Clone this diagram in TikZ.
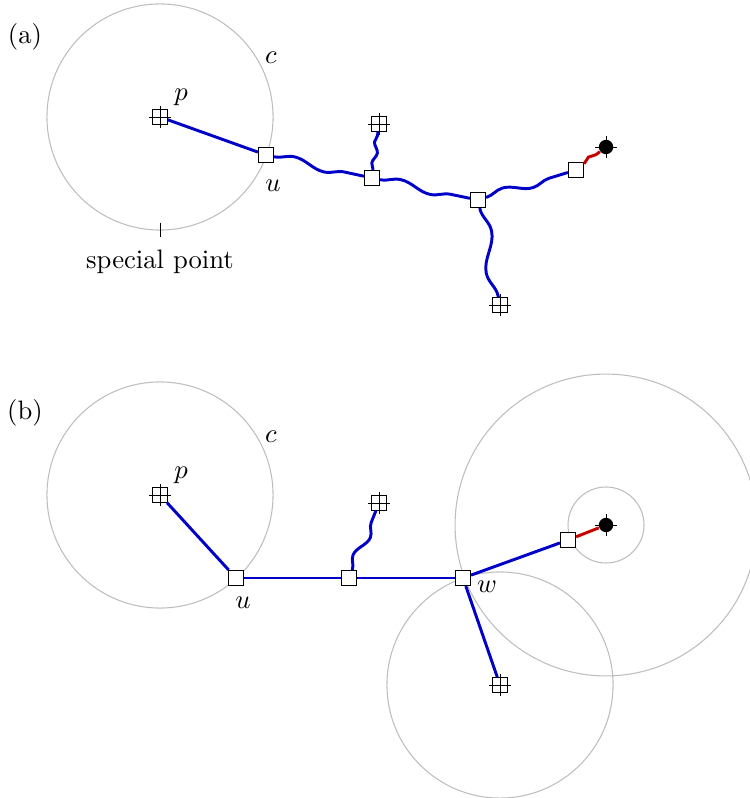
\documentclass[tikz,border=0pt]{standalone}
\usetikzlibrary{decorations.pathmorphing}
\definecolor{edgeblue}{RGB}{0,0,200}
\definecolor{edgered}{RGB}{200,0,0}
\definecolor{circgray}{RGB}{190,190,190}
\newcommand\termnode[2]{%
  \node[termbox] (#1) at (#2) {};
  \draw[crossline] ([xshift=-4.1pt]#1.center) -- ([xshift=4.1pt]#1.center)
                   ([yshift=-4.1pt]#1.center) -- ([yshift=4.1pt]#1.center);}
\newcommand\dotnode[2]{%
  \node[dotbox] (#1) at (#2) {};
  \draw[crossline] ([xshift=-4.1pt]#1.center) -- ([xshift=4.1pt]#1.center)
                   ([yshift=-4.1pt]#1.center) -- ([yshift=4.1pt]#1.center);}
\begin{document}
\begin{tikzpicture}[x=0.375pt,y=-0.375pt,
  sqbox/.style={draw,fill=white,minimum size=5.6pt,inner sep=0pt,line width=0.45pt},
  termbox/.style={draw,minimum size=5.4pt,inner sep=0pt,line width=0.4pt},
  dotbox/.style={circle,fill=black,minimum size=5.4pt,inner sep=0pt},
  crossline/.style={line width=0.35pt},
  ring/.style={draw=circgray,line width=0.4pt},
  bedge/.style={draw=edgeblue,line width=1.1pt},
  redge/.style={draw=edgered,line width=1.1pt},
  wavy/.style={decorate,decoration={snake,amplitude=#1}},
  lbl/.style={inner sep=0pt}]
\useasboundingbox (0,0) rectangle (749,798);

% ---------- (a) ----------
\node[lbl] (la) at (25,37) {(a)};
\coordinate (ca) at (160,117);
\draw[ring] (ca) circle (42.4pt);
\node[lbl] (lca) at (271,58) {$c$};
\termnode{pa}{160,117}
\node[lbl] (lpa) at (181,97) {$p$};
\node[sqbox] (ua) at (266,155) {};
\node[lbl] (lua) at (273,186) {$u$};
\coordinate (spt) at (160,230);
\draw[crossline] ([yshift=2.8pt]spt) -- ([yshift=-2.8pt]spt);
\node[lbl] (lsp) at (160,262) {special point};
\node[sqbox] (s1a) at (372,178) {};
\termnode{t1a}{379,124}
\node[sqbox] (s2a) at (478,200) {};
\termnode{t2a}{500,305}
\node[sqbox] (s3a) at (576,170) {};
\dotnode{da}{606,147}

\draw[bedge] (pa) -- (ua);
\draw[bedge,wavy=1.6pt,decoration={segment length=24pt}] (ua) -- (s1a);
\draw[bedge,wavy=0.8pt,decoration={segment length=8pt}] (s1a) -- (t1a);
\draw[bedge,wavy=1.6pt,decoration={segment length=24pt}] (s1a) -- (s2a);
\draw[bedge,wavy=1.6pt,decoration={segment length=22pt}] (s2a) -- (s3a);
\draw[redge,wavy=1.0pt,decoration={segment length=9pt}] (s3a) -- (da);
\draw[bedge,wavy=2.6pt,decoration={segment length=30pt}] (s2a) -- (t2a);

% ---------- (b) ----------
\node[lbl] (lb) at (25,413) {(b)};
\coordinate (cb) at (160,495);
\coordinate (cbig) at (606,525);
\coordinate (cbot) at (500,685);
\draw[ring] (cb) circle (42.4pt);
\draw[ring] (cbig) circle (56.6pt);
\draw[ring] (cbig) circle (14.25pt);
\draw[ring] (cbot) circle (42.4pt);
\node[lbl] (lcb) at (271,437) {$c$};
\termnode{pb}{160,495}
\node[lbl] (lpb) at (181,475) {$p$};
\node[sqbox] (ub) at (236,578) {};
\node[lbl] (lub) at (243,603) {$u$};
\node[sqbox] (s1b) at (349,578) {};
\termnode{t1b}{379,503}
\node[sqbox] (wb) at (463,578) {};
\node[lbl] (lwb) at (487,587) {$w$};
\node[sqbox] (s3b) at (568,540) {};
\dotnode{db}{606,525}
\termnode{t2b}{500,685}

\draw[bedge] (pb) -- (ub);
\draw[bedge] (ub) -- (s1b);
\draw[bedge] (s1b) -- (wb);
\draw[bedge] (wb) -- (s3b);
\draw[redge] (s3b) -- (db);
\draw[bedge] (wb) -- (t2b);
\draw[bedge,wavy=1.8pt,decoration={segment length=17pt}] (s1b) -- (t1b);
\end{tikzpicture}
\end{document}
